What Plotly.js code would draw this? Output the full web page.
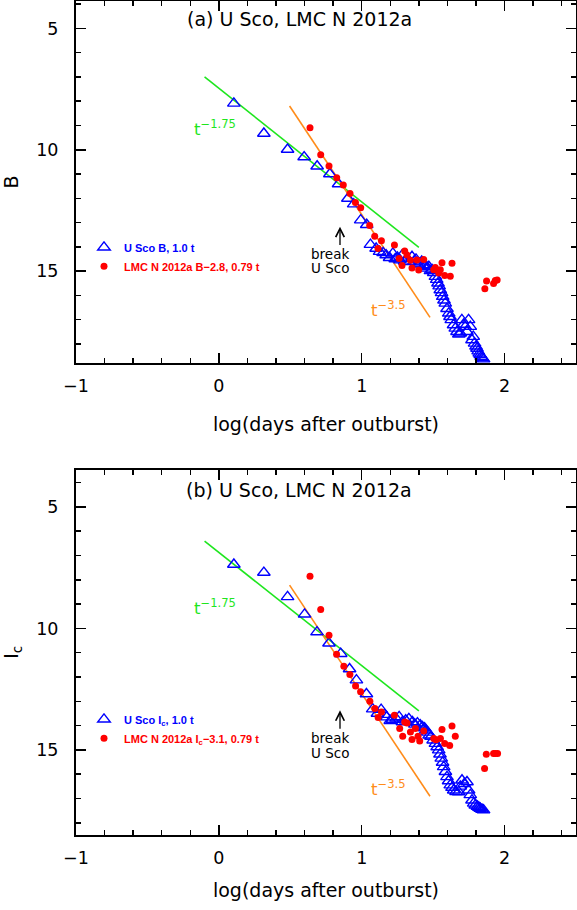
<!DOCTYPE html>
<html><head><meta charset="utf-8">
<script src="https://cdn.plot.ly/plotly-3.0.1.min.js"></script>
<style>html,body{margin:0;padding:0;background:#fff}#chart{width:577px;height:910px}</style>
</head><body><div id="chart"></div>
<script>
// ---------- data ----------
const uscoB_x = [0.105,0.315,0.481,0.597,0.688,0.777,0.838,0.903,0.944,0.993,1.035,1.061,1.101,1.125,1.15,1.171,1.195,1.218,1.235,1.25,1.268,1.283,1.30,1.318,1.335,1.352,1.366,1.380,1.392,1.404,1.42,1.434,1.445,1.457,1.47,1.481,1.493,1.504,1.516,1.525,1.534,1.542,1.550,1.559,1.567,1.576,1.585,1.597,1.609,1.618,1.627,1.643,1.655,1.667,1.68,1.69,1.701,1.713,1.725,1.737,1.748,1.76,1.772,1.781,1.79,1.80,1.807,1.815,1.823,1.83,1.837,1.845,1.853];
const uscoB_y = [8.09,9.33,9.99,10.30,10.68,11.0,11.41,12.01,12.24,12.90,13.09,13.91,14.07,14.2,14.25,14.34,14.45,14.27,14.5,14.44,14.55,14.34,14.6,14.48,14.62,14.41,14.6,14.52,14.72,14.68,14.6,14.79,14.75,14.89,14.82,14.99,14.95,15.07,15.23,15.35,15.50,15.62,15.78,15.9,16.05,16.2,16.33,16.55,16.74,16.88,17.01,17.22,17.36,17.50,17.6,17.56,17.01,17.2,17.29,17.50,17.01,17.29,17.84,17.7,17.98,18.1,18.19,18.3,18.39,18.45,18.53,18.58,18.63];
const lmcB_x = [0.638,0.713,0.771,0.825,0.871,0.918,0.956,0.993,1.056,1.091,1.114,1.138,1.229,1.262,1.282,1.301,1.317,1.341,1.352,1.387,1.399,1.434,1.504,1.515,1.539,1.55,1.562,1.581,1.62,1.632,1.862,1.874,1.923,1.935,1.948];
const lmcB_y = [9.09,10.21,10.67,11.15,11.45,11.80,12.17,12.39,13.12,13.56,14.07,13.75,13.93,14.48,14.77,14.17,14.34,14.55,14.87,14.54,14.96,14.52,14.94,14.85,15.08,14.95,14.66,15.18,15.21,14.68,15.73,15.41,15.51,15.39,15.37];

const uscoI_x = [0.105,0.315,0.481,0.600,0.687,0.771,0.853,0.915,0.963,1.033,1.077,1.11,1.136,1.16,1.176,1.20,1.215,1.24,1.262,1.285,1.308,1.33,1.355,1.372,1.39,1.41,1.425,1.44,1.449,1.462,1.472,1.485,1.50,1.516,1.528,1.539,1.548,1.557,1.566,1.574,1.586,1.597,1.608,1.62,1.632,1.644,1.66,1.679,1.69,1.702,1.718,1.737,1.748,1.76,1.772,1.784,1.795,1.81,1.82,1.83,1.842,1.853];
const uscoI_y = [7.37,7.70,8.70,9.42,10.15,10.61,11.04,11.67,12.13,12.70,13.32,13.5,13.34,13.55,13.65,13.8,13.75,13.7,13.64,13.85,13.78,13.72,13.85,13.95,13.9,13.98,14.05,14.1,14.19,14.28,14.40,14.45,14.6,14.74,14.88,15.01,15.18,15.35,15.52,15.70,15.9,16.11,16.28,16.45,16.55,16.66,16.72,16.73,16.5,16.25,16.4,16.32,16.66,16.85,17.07,17.2,17.28,17.33,17.37,17.41,17.45,17.48];
const lmcI_x = [0.638,0.713,0.771,0.824,0.875,0.917,0.957,0.992,1.057,1.092,1.115,1.138,1.229,1.266,1.287,1.301,1.317,1.341,1.352,1.376,1.394,1.406,1.434,1.504,1.52,1.551,1.562,1.581,1.616,1.632,1.655,1.86,1.872,1.923,1.935,1.951];
const lmcI_y = [7.85,9.22,10.28,11.06,11.56,11.90,12.37,12.61,13.0,13.30,13.67,13.44,13.57,14.12,14.44,13.85,13.89,14.26,14.57,14.12,14.44,14.63,14.22,14.53,14.58,14.53,14.16,14.74,14.82,14.02,14.44,15.77,15.18,15.15,15.15,15.15];

// power-law guide lines (end points)
const fit175_x = [-0.1, 1.4];
const fit175_yB = [7.0, 14.02];
const fit175_yI = [6.41, 13.39];
const fit35_x = [0.495, 1.478];
const fit35_yB = [8.2, 16.91];
const fit35_yI = [8.22, 16.91];

// text
const panelTitles = ['(a) U Sco, LMC N 2012a', '(b) U Sco, LMC N 2012a'];
const yTitles = ['B', 'I<sub>c</sub>'];
const xTitle = 'log(days after outburst)';
const legendNames = [
  ['U Sco B, 1.0 t', 'LMC N 2012a B\u22122.8, 0.79 t'],
  ['U Sco I<sub>c</sub>, 1.0 t', 'LMC N 2012a I<sub>c</sub>\u22123.1, 0.79 t']
];

// ---------- styling ----------
const FONT = 'DejaVu Sans, sans-serif';
const LFONT = 'Liberation Sans, Arial, sans-serif';
const BLUE = '#0000ff', RED = '#ff0000', GREEN = '#1ee61e', ORANGE = '#ff8c1a';
const H = 910;

function px2paper(py) { return 1 - py / H; }

function triTrace(x, y, xa, ya, name, leg) {
  return {x, y, xaxis: xa, yaxis: ya, type: 'scatter', mode: 'markers', name: '<span style="color:' + BLUE + '">' + name + '</span>',
    legend: leg, marker: {symbol: 'triangle-up-open', size: 11, color: BLUE, line: {width: 1.4, color: BLUE}}, cliponaxis: true};
}
function dotTrace(x, y, xa, ya, name, leg) {
  return {x, y, xaxis: xa, yaxis: ya, type: 'scatter', mode: 'markers', name: '<span style="color:' + RED + '">' + name + '</span>',
    legend: leg, marker: {symbol: 'circle', size: 7, color: RED}, cliponaxis: true};
}
function lineTrace(x, y, xa, ya, color) {
  return {x, y, xaxis: xa, yaxis: ya, type: 'scatter', mode: 'lines', showlegend: false, hoverinfo: 'skip',
    line: {color, width: 1.6}};
}

const data = [
  lineTrace(fit175_x, fit175_yB, 'x', 'y', GREEN),
  lineTrace(fit35_x, fit35_yB, 'x', 'y', ORANGE),
  triTrace(uscoB_x, uscoB_y, 'x', 'y', legendNames[0][0], 'legend'),
  dotTrace(lmcB_x, lmcB_y, 'x', 'y', legendNames[0][1], 'legend'),
  lineTrace(fit175_x, fit175_yI, 'x2', 'y2', GREEN),
  lineTrace(fit35_x, fit35_yI, 'x2', 'y2', ORANGE),
  triTrace(uscoI_x, uscoI_y, 'x2', 'y2', legendNames[1][0], 'legend2'),
  dotTrace(lmcI_x, lmcI_y, 'x2', 'y2', legendNames[1][1], 'legend2')
];

function xAxis(anchor, standoff) {
  return {
    anchor, domain: [0, 1], range: [-1, 2.5],
    tick0: 0, dtick: 1, ticks: 'inside', ticklen: 10, tickwidth: 1.5, tickcolor: '#000',
    minor: {tick0: 0, dtick: 0.2, ticks: 'inside', ticklen: 5, tickwidth: 1.5, tickcolor: '#000', showgrid: false},
    showline: true, linewidth: 2, linecolor: '#000', mirror: 'allticks',
    showgrid: false, zeroline: false,
    tickfont: {family: FONT, size: 17.5, color: '#000'},
    ticklabelstandoff: 6,
    title: {text: xTitle, font: {family: FONT, size: 19, color: '#000'}, standoff: standoff}
  };
}
function yAxis(anchor, domain, range, title) {
  return {
    anchor, domain, range,
    tick0: 0, dtick: 5, ticks: 'inside', ticklen: 10, tickwidth: 1.5, tickcolor: '#000',
    minor: {tick0: 0, dtick: 1, ticks: 'inside', ticklen: 5, tickwidth: 1.5, tickcolor: '#000', showgrid: false},
    showline: true, linewidth: 2, linecolor: '#000', mirror: 'allticks',
    showgrid: false, zeroline: false,
    tickfont: {family: FONT, size: 17.5, color: '#000'},
    ticklabelstandoff: 12,
    title: {text: title, font: {family: FONT, size: 19, color: '#000'}, standoff: 16}
  };
}

function panelNotes(xr, yr, tTitleY, t175y, t35y, arrowHead, arrowTail, breakY, uscoY, title) {
  return [
    {xref: 'paper', yref: 'paper', x: (299 - 76) / 500, y: tTitleY, xanchor: 'center', yanchor: 'middle',
      text: title, showarrow: false, font: {family: FONT, size: 19, color: '#000'}},
    {xref: xr, yref: yr, x: -0.19, y: t175y, xanchor: 'left', yanchor: 'middle',
      text: 't<sup>\u22121.75</sup>', showarrow: false, font: {family: FONT, size: 16.5, color: GREEN}},
    {xref: xr, yref: yr, x: 1.05, y: t35y, xanchor: 'left', yanchor: 'middle',
      text: 't<sup>\u22123.5</sup>', showarrow: false, font: {family: FONT, size: 16.5, color: ORANGE}},
    {xref: xr, yref: yr, axref: xr, ayref: yr, x: 0.848, y: arrowHead, ax: 0.848, ay: arrowTail,
      text: '', showarrow: true, arrowhead: 5, arrowsize: 1.3, arrowwidth: 1.3, arrowcolor: '#000'},
    {xref: xr, yref: yr, x: 0.776, y: breakY, xanchor: 'center', yanchor: 'middle',
      text: 'break', showarrow: false, font: {family: FONT, size: 13.5, color: '#000'}},
    {xref: xr, yref: yr, x: 0.776, y: uscoY, xanchor: 'center', yanchor: 'middle',
      text: 'U Sco', showarrow: false, font: {family: FONT, size: 13.5, color: '#000'}}
  ];
}

const layout = {
  width: 577, height: 910,
  margin: {l: 76, r: 1, t: 0, b: 0},
  paper_bgcolor: '#fff', plot_bgcolor: '#fff',
  font: {family: FONT, color: '#000'},
  xaxis: xAxis('y', 22),
  yaxis: yAxis('x', [1 - 363.3 / H, 1 - 0.5 / H], [18.8, 3.85], yTitles[0]),
  xaxis2: xAxis('y2', 17),
  yaxis2: yAxis('x2', [1 - 834.7 / H, 1 - 470 / H], [18.49, 3.48], yTitles[1]),
  legend: {x: (84 - 76) / 500, y: px2paper(232.8), xanchor: 'left', yanchor: 'top', bgcolor: 'rgba(0,0,0,0)',
    borderwidth: 0, font: {family: LFONT, size: 11, weight: 'bold'}, itemwidth: 30, tracegroupgap: 0},
  legend2: {x: (84 - 76) / 500, y: px2paper(704.8), xanchor: 'left', yanchor: 'top', bgcolor: 'rgba(0,0,0,0)',
    borderwidth: 0, font: {family: LFONT, size: 11, weight: 'bold'}, itemwidth: 30, tracegroupgap: 0},
  showlegend: true,
  annotations: [
    ...panelNotes('x', 'y', px2paper(19), 9.1, 16.55, 13.17, 13.99, 14.30, 14.89, panelTitles[0]),
    ...panelNotes('x2', 'y2', px2paper(490), 9.1, 16.58, 13.37, 14.19, 14.49, 15.12, panelTitles[1])
  ]
};

Plotly.newPlot('chart', data, layout, {displayModeBar: false, staticPlot: true});
</script>
</body></html>
